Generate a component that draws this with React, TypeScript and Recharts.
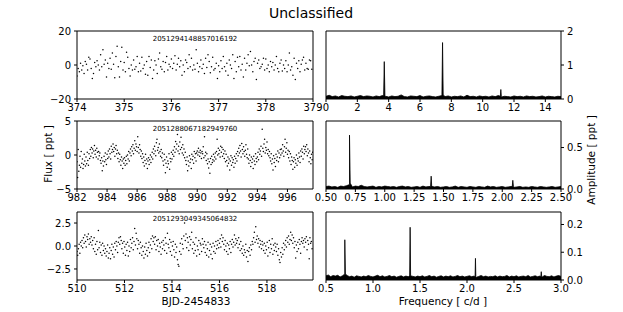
import React from 'react';
import { ScatterChart, Scatter, ComposedChart, Area, XAxis, YAxis, ReferenceArea } from 'recharts';

// light curves: flux in ppt, sampled on a regular cadence
const lc1Start = 374;
const lc1Step = 0.025;
const lc1Flux = [
  -6.5, -2, -4, 1, -3, -0.5, -5, 2, 0.5, -3, 4.5, 3.5, -2, -8, -5, 1.5, -1, 2.5, 0, -3,
  6, -1, 9, 0.5, 3, -7, 1, -2, 4, -2.5, 7, 0.5, -7.5, 5, 11, -1, -7, 2, 10.5, -3,
  1.5, -4, 7.5, 4.5, -2, -6.5, 0, -3, 3, -2.5, -1, 5, -4, 1, -3.5, 4.5, -2, 0, -5.5, 2,
  -6, 5, -1.5, 3, -8, -3, 2.5, 0, -5, 3.5, 7, -1, -2.5, 2, -4, 1.5, 5, -3, 0.5, -1,
  3.5, -2, 1, 5.5, -3, 0.5, 4, -1, 2.5, -6, 0, -4, 3, 1.5, -2, 6, -1, 4, -3, 0,
  -2.5, 9, 1, -4, -1, 3, -2, 0.5, -5, 4, -1.5, 6, 2, -4.5, -1, 4.5, -3, -2, 1, -8,
  -0.5, -4, 2.5, -2, 5, -1, -3.5, 1, -6, 3, 0, -2, 6, -8, 2, -4, 4.5, -1, 5, -3,
  0.5, -7, 4, -3, 1, 6, -0.5, 8, 0, -4, 2, 4, -8.5, 1, 3, -2, -1, 0.5, 4, -3,
  3.5, -2, 0, -4, 2, -1, 1.5, -3, 0, 5, -2, -4, 1, 3, -3.5, 0, -2, 2.5, -4, 0,
  7, -3, -1, -6, 4, -8.5, 1, -2, 2.5, -4, 0.5, 3, 4.5, -3, 1, -2, -2.5, 3, 2.5, -2.5,
];

const lc2Start = 982;
const lc2Step = 0.04;
const lc2Flux = [
  -1.0, -3.3, 0.8, -2.4, -1.5, -0.2, -1.8, 0.5, -1.2, -0.6, -2.0, -1.4, 0.1, -0.9, -1.6, -0.3, -1.3, 0.4, -0.8, -1.5,
  0.2, -0.5, 0.8, -0.2, 1.1, 0.3, 0.9, -0.4, 0.6, 1.4, 0.1, 0.7, -0.3, 1.0, 0.4, -0.6, 0.5, -0.1, 0.3, -0.8,
  -1.2, -0.4, -2.3, -0.9, -1.6, -0.2, -1.0, 0.3, -0.7, -1.4, 0.1, -0.5, 0.6, -0.3, 0.9, 0.2, -0.6, 1.3, 0.4, 0.8,
  1.6, 0.5, 1.1, -0.2, 0.9, 1.4, 0.2, 0.7, -0.5, 0.3, -1.0, 0.1, -0.7, -1.5, -0.3, -0.9, -2.0, -0.6, -1.2, -0.4,
  -1.5, -0.8, -0.2, -1.3, 0.0, -0.6, 0.5, -0.9, 0.3, 0.9, -0.1, 1.2, 0.6, 1.5, 0.2, 1.0, 2.1, 0.7, 1.6, 1.2,
  0.5, 2.7, 1.1, 0.3, 1.5, 0.8, -0.2, 0.6, -0.5, 0.2, -1.1, -0.3, -1.6, -0.8, 0.1, -1.3, -0.6, -2.0, -0.9, -0.4,
  -1.4, -0.7, 0.0, -1.1, -0.3, 0.4, -0.6, 0.9, 0.2, 1.3, 0.6, -0.1, 1.8, 2.3, 0.7, 1.1, 0.3, 1.6, 0.5, -0.2,
  0.8, -0.4, 0.3, -0.9, -1.5, 0.1, -0.7, -2.6, -1.2, -0.3, -1.8, -0.9, -1.3, 0.2, -2.1, -0.5, -1.0, 0.4, -0.6, 0.1,
  0.7, -0.2, 1.2, 0.4, 2.0, 0.9, 1.6, 3.0, 0.6, 1.3, 0.2, 1.9, 0.8, 2.6, 1.1, 0.3, 1.5, 0.0, 0.9, -0.4,
  0.4, -0.8, -1.4, -0.3, -2.3, -0.9, -1.6, -0.1, -1.1, -0.6, -2.0, 0.1, -0.7, -0.2, -1.2, 0.5, -0.4, 0.2, -0.9, 0.3,
  0.6, 0.0, 1.0, 0.4, -0.2, 0.7, 0.3, -0.5, 0.5, 0.2, 1.2, -0.4, 2.7, -0.1, 0.4, -0.8, 0.2, -1.3, -0.6, -1.9,
  -1.0, -2.7, -0.5, -1.4, -0.2, -1.1, -0.7, 0.1, -0.9, -0.3, 0.3, -0.6, 0.5, 2.3, 0.0, 1.0, 0.2, 0.7, -0.3, 1.3,
  0.4, 1.1, -0.2, 0.8, 0.2, -0.5, 0.6, -1.0, 0.1, -0.8, -1.6, -0.3, -1.2, -0.6, -2.2, -0.9, -0.1, -1.5, -0.4, -1.1,
  -0.7, -1.8, -0.2, -1.2, -0.5, 0.2, -0.9, 0.5, -0.1, 1.0, 0.3, 1.4, 0.6, -0.3, 1.7, 0.8, 0.2, 1.2, 0.5, -0.2,
  0.7, 1.5, 0.1, -0.4, 0.9, -0.6, -1.2, 0.0, -0.8, -1.7, -0.3, -1.1, -0.6, -2.0, -0.2, -0.9, -1.4, 0.2, -0.5, -1.0,
  -0.3, 0.4, -0.7, 0.9, 0.1, 0.6, 1.3, -0.2, 3.8, 1.0, 0.5, 1.6, 2.3, 0.3, 1.1, 0.7, 1.9, 0.2, 0.8, -0.1,
  0.5, -0.4, -0.9, 0.2, -1.3, -0.6, -2.2, -0.1, -1.1, -0.5, -1.7, 0.1, -0.8, -0.3, 0.6, -1.0, 0.3, -0.4, 0.8, 0.0,
  0.9, 0.3, 1.5, 0.6, -0.2, 1.2, 2.3, 0.4, 1.0, 1.8, 0.1, 0.7, -0.4, 0.5, -0.9, 0.2, -1.4, -0.3, -0.8, -2.1,
  -1.0, -0.4, -1.8, -0.7, -1.2, 0.0, -1.5, -0.5, -0.9, 0.3, -0.3, -1.1, 0.6, -0.2, 0.9, 0.4, -0.6, 1.3, 0.2, 0.8,
  1.2, 0.5, 1.5, -0.1, 0.9, 0.3, -1.0, 0.6, -0.4, -1.3, 0.1, -0.7, 0.4,
];

const lc3Start = 510;
const lc3Step = 0.03;
const lc3Flux = [
  -0.6, -1.0, -0.3, 0.2, -0.8, 0.4, 0.0, 0.6, -0.2, 0.9, 0.3, 1.2, 0.5, -0.1, 1.0, 0.7, 1.3, 0.2, 0.8, 0.4,
  1.0, 0.1, 0.6, -0.3, 0.9, -0.6, 0.2, -0.9, 0.5, -0.4, 1.7, -0.2, 0.4, -0.7, 0.1, -1.0, 0.3, -0.5, 0.0, -0.8,
  -0.3, -1.1, -0.6, 0.1, -1.3, -0.8, -0.2, -1.4, -0.5, 0.2, -0.9, -0.1, -1.2, 0.3, -0.4, 0.5, 0.0, -0.7, 0.4, 0.9,
  0.2, 1.0, 0.6, -0.3, 0.3, -0.8, 0.5, -0.1, -1.0, 0.2, -0.5, 0.4, -1.1, 0.0, -0.6, 0.7, -0.2, 0.3, 0.9, -0.4,
  0.5, 1.9, 0.1, 1.4, 0.8, -0.3, 0.6, 0.2, -0.8, 0.4, -0.2, -1.0, 0.0, -0.6, -1.3, -0.1, -0.9, 0.3, -0.5, -1.1,
  -0.2, 0.4, -0.7, 0.1, 0.8, -0.3, 1.1, 0.5, 0.9, 0.2, 1.0, -0.4, 0.6, 0.0, 0.7, -0.6, 0.3, -0.1, -0.9, 0.4,
  -0.3, 0.6, 0.1, -0.5, 0.9, 0.3, -0.8, 1.4, 0.2, -0.2, 0.7, -0.6, 0.4, -1.0, 0.0, 0.5, -0.4, -1.2, 0.2, -0.7,
  -0.1, -1.5, -2.0, -2.2, -0.6, 0.3, -0.9, 0.8, 0.2, -0.3, 1.1, 2.5, 0.6, 1.3, -0.2, 0.9, 0.4, -0.5, 1.0, 0.1,
  0.7, 1.5, -0.3, 0.4, -0.8, 0.2, -0.5, 0.9, -1.1, 0.0, -0.4, 0.6, -0.9, 0.3, 0.1, -0.6, 0.8, 0.2, -0.2, 0.5,
  -0.7, 0.1, -1.0, -0.3, 0.4, -1.2, -0.5, 0.2, -0.9, -0.1, -1.4, 0.3, -0.6, 0.0, -0.8, 0.5, -0.3, 0.1, 0.6, -0.2,
  0.3, 0.8, -0.1, 1.2, 0.5, 0.9, 0.2, -0.4, 0.6, 0.0, -0.6, 0.3, -0.9, 0.1, -0.3, 0.5, -0.7, 0.2, 0.7, -0.1,
  0.4, 1.2, 0.1, 0.8, 0.3, 0.6, -0.2, 0.9, 0.2, -0.5, 0.5, -0.3, -0.8, 0.0, -1.0, -0.4, -0.7, 0.2, -1.2, -0.5,
  -1.7, -0.6, -0.2, -1.0, 0.1, -0.4, 0.5, 0.2, 0.9, 1.5, 0.4, 2.1, 0.7, 1.1, 0.3, 0.8, -0.1, 0.6, 0.2, -0.3,
  0.5, 0.1, -0.5, 0.3, -0.8, 0.0, -0.4, 0.4, -1.1, -0.2, 0.6, -0.7, 0.2, -0.3, 0.8, -0.9, 0.1, -0.5, 0.3, -0.1,
  -0.6, 0.2, -1.0, -0.3, -1.5, -1.8, -0.7, -1.2, -0.2, -0.9, 0.3, -0.4, 0.1, 0.6, -0.1, 0.9, 0.4, 1.1, 0.2, 0.7,
  1.5, 0.6, 1.2, 0.3, 0.9, -0.2, 0.5, -1.3, 0.1, -0.6, 0.4, -0.3, 0.7, 0.2, -0.8, 0.5, 0.9, 0.3, 0.6, -0.1,
  0.8, 0.4, 1.0, -0.4, 0.6, 0.2, -1.4, 0.9, 0.3, 0.5, -0.3,
];

// amplitude spectra: noise floor on a frequency grid + the peaks
const sp1Start = 0;
const sp1Step = 0.2;
const sp1Floor = [
  0.08, 0.11, 0.07, 0.09, 0.06, 0.1, 0.08, 0.07, 0.09, 0.06,
  0.08, 0.1, 0.07, 0.09, 0.08, 0.06, 0.09, 0.07, 0.1, 0.08,
  0.06, 0.09, 0.07, 0.08, 0.12, 0.07, 0.06, 0.09, 0.08, 0.07,
  0.1, 0.06, 0.08, 0.09, 0.07, 0.06, 0.08, 0.1, 0.07, 0.09,
  0.06, 0.08, 0.07, 0.09, 0.06, 0.11, 0.07, 0.08, 0.06, 0.09,
  0.07, 0.08, 0.06, 0.09, 0.07, 0.1, 0.06, 0.08, 0.07, 0.06,
  0.09, 0.07, 0.08, 0.06, 0.09, 0.07, 0.08, 0.06, 0.07, 0.09,
  0.06, 0.08, 0.07, 0.06, 0.08, 0.07,
];
const sp1Peaks = [
  [3.68, 0.1], [3.72, 1.1], [3.76, 0.1],
  [7.4, 0.12], [7.44, 1.66], [7.48, 0.12],
  [11.13, 0.08], [11.16, 0.28], [11.19, 0.08],
];

const sp2Start = 0.5;
const sp2Step = 0.025;
const sp2Floor = [
  0.03, 0.035, 0.025, 0.03, 0.02, 0.035, 0.03, 0.04, 0.03, 0.025,
  0.035, 0.03, 0.045, 0.03, 0.025, 0.03, 0.035, 0.02, 0.03, 0.025,
  0.035, 0.03, 0.025, 0.03, 0.02, 0.03, 0.035, 0.025, 0.03, 0.02,
  0.025, 0.03, 0.02, 0.035, 0.025, 0.03, 0.02, 0.025, 0.03, 0.02,
  0.025, 0.03, 0.02, 0.025, 0.035, 0.02, 0.03, 0.025, 0.02, 0.03,
  0.025, 0.02, 0.03, 0.025, 0.02, 0.035, 0.025, 0.03, 0.02, 0.025,
  0.03, 0.02, 0.025, 0.03, 0.02, 0.025, 0.03, 0.02, 0.025, 0.02,
  0.03, 0.025, 0.02, 0.03, 0.025, 0.02, 0.025, 0.03, 0.02, 0.025,
  0.03,
];
const sp2Peaks = [
  [0.695, 0.05], [0.7, 0.65], [0.706, 0.07],
  [1.39, 0.03], [1.395, 0.155], [1.4, 0.03],
  [2.085, 0.03], [2.09, 0.105], [2.095, 0.03],
];

const sp3Start = 0.5;
const sp3Step = 0.025;
const sp3Floor = [
  0.015, 0.018, 0.012, 0.016, 0.014, 0.017, 0.011, 0.015, 0.013, 0.016,
  0.012, 0.014, 0.01, 0.015, 0.013, 0.011, 0.014, 0.012, 0.016, 0.013,
  0.011, 0.014, 0.017, 0.012, 0.015, 0.011, 0.013, 0.016, 0.012, 0.014,
  0.01, 0.013, 0.015, 0.011, 0.014, 0.012, 0.016, 0.013, 0.011, 0.014,
  0.012, 0.015, 0.011, 0.013, 0.016, 0.012, 0.014, 0.01, 0.013, 0.015,
  0.011, 0.014, 0.012, 0.015, 0.011, 0.013, 0.016, 0.012, 0.014, 0.011,
  0.013, 0.015, 0.012, 0.014, 0.01, 0.013, 0.016, 0.012, 0.014, 0.011,
  0.013, 0.012, 0.015, 0.011, 0.014, 0.012, 0.013, 0.016, 0.011, 0.014,
  0.012, 0.015, 0.011, 0.013, 0.014, 0.012, 0.016, 0.011, 0.013, 0.015,
  0.012, 0.014, 0.011, 0.016, 0.013, 0.012, 0.015, 0.011, 0.014, 0.016,
  0.013,
];
const sp3Peaks = [
  [0.695, 0.02], [0.7, 0.145], [0.706, 0.022],
  [1.39, 0.015], [1.395, 0.19], [1.4, 0.015],
  [2.086, 0.012], [2.09, 0.078], [2.094, 0.012],
  [2.785, 0.012], [2.79, 0.03], [2.795, 0.012],
];

const starIds = ['2051294148857016192', '2051288067182949760', '2051293049345064832'];

const minus = (s: string) => s.replace('-', '\u2212');
const tickStyle = { fontSize: 10, fill: '#000' };

const lcPoints = (start: number, step: number, flux: number[]) =>
  flux.map((v, i) => ({ t: start + i * step, v }));

const specPoints = (start: number, step: number, floor: number[], peaks: number[][]) =>
  [...floor.map((a, i) => ({ f: start + i * step, a })), ...peaks.map(([f, a]) => ({ f, a }))]
    .sort((p, q) => p.f - q.f);

const dot = (p: any) => <circle cx={p.cx} cy={p.cy} r={0.75} fill="#000" />;

const LightCurve = ({ top, data, xDomain, xTicks, yDomain, yTicks, yFmt }: any) => (
  <div style={{ position: 'absolute', left: 33, top: top - 6 }}>
    <ScatterChart width={292} height={94} margin={{ top: 6, right: 12, bottom: 0, left: 0 }}>
      <XAxis type="number" dataKey="t" domain={xDomain} ticks={xTicks} allowDataOverflow
        axisLine={false} tickSize={3} tickMargin={2} height={20} tick={tickStyle}
        tickLine={{ stroke: '#000' }} />
      <YAxis type="number" dataKey="v" domain={yDomain} ticks={yTicks} allowDataOverflow
        axisLine={false} tickSize={3} tickMargin={3} width={44} tick={tickStyle}
        tickLine={{ stroke: '#000' }} tickFormatter={(v: number) => minus(yFmt(v))} />
      <Scatter data={data} shape={dot} isAnimationActive={false} />
      <ReferenceArea x1={xDomain[0]} x2={xDomain[1]} y1={yDomain[0]} y2={yDomain[1]}
        fill="none" stroke="#000" strokeWidth={1} />
    </ScatterChart>
  </div>
);

const Spectrum = ({ top, data, xDomain, xTicks, xFmt, yDomain, yTicks, yFmt }: any) => (
  <div style={{ position: 'absolute', left: 314, top: top - 6 }}>
    <ComposedChart width={291} height={94} data={data} margin={{ top: 6, right: 0, bottom: 0, left: 12 }}>
      <XAxis type="number" dataKey="f" domain={xDomain} ticks={xTicks} allowDataOverflow
        axisLine={false} tickSize={3} tickMargin={2} height={20} tick={tickStyle}
        tickLine={{ stroke: '#000' }} tickFormatter={xFmt} />
      <YAxis type="number" orientation="right" domain={yDomain} ticks={yTicks} allowDataOverflow
        axisLine={false} tickSize={3} tickMargin={3} width={44} tick={tickStyle}
        tickLine={{ stroke: '#000' }} tickFormatter={yFmt} />
      <Area type="linear" dataKey="a" stroke="#000" strokeWidth={0.8} fill="#000" fillOpacity={1}
        baseValue={0} dot={false} activeDot={false} isAnimationActive={false} />
      <ReferenceArea x1={xDomain[0]} x2={xDomain[1]} y1={yDomain[0]} y2={yDomain[1]}
        fill="none" stroke="#000" strokeWidth={1} />
    </ComposedChart>
  </div>
);

const Text = ({ x, y, size, rotate, children }: any) => (
  <div style={{
    position: 'absolute', left: x, top: y, fontSize: size, whiteSpace: 'nowrap', lineHeight: 1,
    transform: `translate(-50%, -50%)${rotate ? ' rotate(-90deg)' : ''}`,
  }}>{children}</div>
);

export default function App() {
  const rows = [31, 121, 212];
  return (
    <div style={{ position: 'absolute', left: 0, top: 0, width: 623, height: 312, background: '#fff', fontFamily: '"DejaVu Sans", sans-serif', color: '#000' }}>
      <Text x={311} y={13} size={14}>Unclassified</Text>

      <LightCurve top={rows[0]} data={lcPoints(lc1Start, lc1Step, lc1Flux)} xDomain={[374, 379]}
        xTicks={[374, 375, 376, 377, 378, 379]} yDomain={[-20, 20]} yTicks={[-20, 0, 20]} yFmt={(v: number) => String(v)} />
      <LightCurve top={rows[1]} data={lcPoints(lc2Start, lc2Step, lc2Flux)} xDomain={[982, 997.7]}
        xTicks={[982, 984, 986, 988, 990, 992, 994, 996]} yDomain={[-5, 5]} yTicks={[-5, 0, 5]} yFmt={(v: number) => String(v)} />
      <LightCurve top={rows[2]} data={lcPoints(lc3Start, lc3Step, lc3Flux)} xDomain={[510, 519.94]}
        xTicks={[510, 512, 514, 516, 518]} yDomain={[-3.7, 3.7]} yTicks={[-2.5, 0, 2.5]} yFmt={(v: number) => v.toFixed(1)} />

      <Spectrum top={rows[0]} data={specPoints(sp1Start, sp1Step, sp1Floor, sp1Peaks)} xDomain={[0, 15]}
        xTicks={[0, 2, 4, 6, 8, 10, 12, 14]} xFmt={(v: number) => String(v)}
        yDomain={[0, 2]} yTicks={[0, 1, 2]} yFmt={(v: number) => String(v)} />
      <Spectrum top={rows[1]} data={specPoints(sp2Start, sp2Step, sp2Floor, sp2Peaks)} xDomain={[0.5, 2.5]}
        xTicks={[0.5, 0.75, 1, 1.25, 1.5, 1.75, 2, 2.25, 2.5]} xFmt={(v: number) => v.toFixed(2)}
        yDomain={[0, 0.82]} yTicks={[0, 0.5]} yFmt={(v: number) => v.toFixed(1)} />
      <Spectrum top={rows[2]} data={specPoints(sp3Start, sp3Step, sp3Floor, sp3Peaks)} xDomain={[0.5, 3]}
        xTicks={[0.5, 1, 1.5, 2, 2.5, 3]} xFmt={(v: number) => v.toFixed(1)}
        yDomain={[0, 0.245]} yTicks={[0, 0.1, 0.2]} yFmt={(v: number) => v.toFixed(1)} />

      <Text x={195} y={38.5} size={7}>{starIds[0]}</Text>
      <Text x={195} y={128.5} size={7}>{starIds[1]}</Text>
      <Text x={195} y={218.5} size={7}>{starIds[2]}</Text>

      <Text x={48} y={154} size={10.5} rotate>Flux [ ppt ]</Text>
      <Text x={591} y={160} size={10.5} rotate>Amplitude [ ppt ]</Text>
      <Text x={196} y={301} size={10.5}>BJD-2454833</Text>
      <Text x={443} y={301} size={10.5}>Frequency [ c/d ]</Text>
    </div>
  );
}
